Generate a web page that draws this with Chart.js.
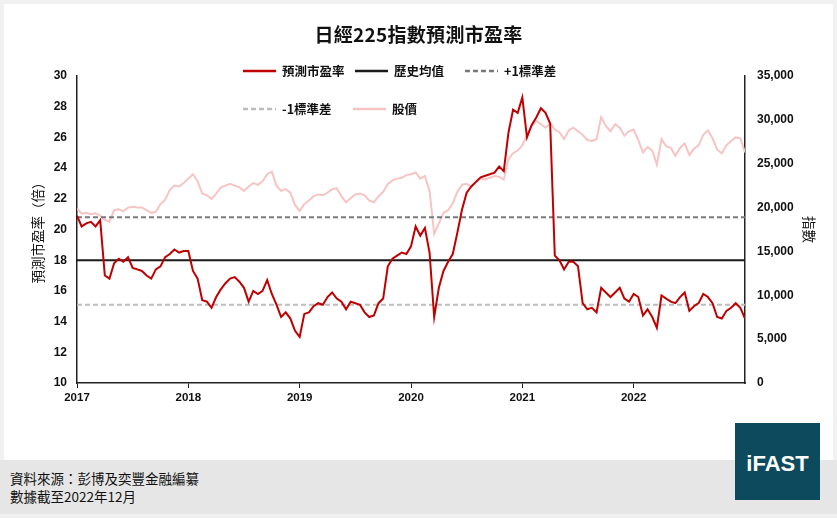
<!DOCTYPE html>
<html>
<head>
<meta charset="utf-8">
<script src="https://cdn.jsdelivr.net/npm/chart.js@4.4.0/dist/chart.umd.min.js"></script>
<style>
  html, body { margin: 0; padding: 0; }
  body { width: 837px; height: 518px; background: #f1f1f1; position: relative; overflow: hidden;
         font-family: "Liberation Sans Narrow", "Liberation Sans", "Noto Sans CJK TC", sans-serif; }
  #card { position: absolute; left: 4px; top: 4px; width: 829px; height: 456px; background: #fff; }
  #foot { position: absolute; left: 0; top: 460px; width: 837px; height: 54px; background: #e6e6e6; }
  #wrap { position: absolute; left: 0; top: 0; width: 837px; height: 420px; }
  #title { position: absolute; left: 0; width: 837px; top: 20px; text-align: center;
           font-size: 19px; font-weight: bold; color: #111; letter-spacing: 0.3px;
           font-family: "Liberation Sans Narrow", "Noto Sans CJK TC", sans-serif; }
  .leg { position: absolute; display: flex; align-items: center; font-size: 12.5px; font-weight: bold; color: #111;
         font-family: "Noto Sans CJK TC", sans-serif; white-space: nowrap; }
  .leg svg { margin-right: 6px; }
  .src { position: absolute; left: 10px; font-size: 13.5px; color: #111; font-family: "Noto Sans CJK TC", sans-serif; }
  #logo { position: absolute; left: 735px; top: 423px; width: 85px; height: 77px; background: #0d4a5e;
          color: #fff; font: bold 22px "Liberation Sans Narrow", "Liberation Sans", sans-serif;
          display: flex; align-items: center; justify-content: center; padding-top: 4px; box-sizing: border-box; }
</style>
</head>
<body>
<div id="card"></div>
<div id="foot"></div>
<div id="wrap"><canvas id="chart"></canvas></div>
<div id="title">日經225指數預測市盈率</div>
<div id="legend"></div>
<div class="src" style="top:468px">資料來源：彭博及奕豐金融編纂</div>
<div class="src" style="top:486px">數據截至2022年12月</div>
<div id="logo">iFAST</div>
<script>
// data: half-monthly readings, Jan 2017 - Dec 2022
const startYear = 2017;
const pointsPerYear = 24;

const peValues = [
  20.9, 20.2, 20.4, 20.5, 20.2, 20.6, 17.0, 16.8, 17.8, 18.1, 17.9, 18.2, 17.5, 17.4, 17.3, 17.0, 16.8, 17.4, 17.6, 18.2, 18.4, 18.7, 18.5, 18.6,
  18.6, 17.3, 16.8, 15.4, 15.3, 14.9, 15.6, 16.1, 16.5, 16.8, 16.9, 16.6, 16.2, 15.3, 16.0, 15.8, 16.0, 16.7, 15.8, 15.1, 14.3, 14.6, 14.2, 13.4,
  13.0, 14.5, 14.6, 15.0, 15.2, 15.1, 15.6, 15.9, 15.5, 15.3, 14.8, 15.3, 15.2, 15.1, 14.6, 14.3, 14.4, 15.2, 15.5, 17.6, 18.1, 18.3, 18.5, 18.4,
  18.9, 20.2, 19.6, 20.1, 18.5, 14.3, 16.2, 17.3, 17.9, 18.4, 19.8, 21.3, 22.4, 22.8, 23.1, 23.4, 23.5, 23.6, 23.7, 24.1, 23.8, 26.3, 27.8, 27.6,
  28.6, 26.0, 26.8, 27.3, 27.9, 27.6, 26.9, 18.3, 18.0, 17.4, 17.9, 17.9, 17.6, 15.2, 14.8, 14.9, 14.6, 16.2, 15.9, 15.6, 15.9, 16.2, 15.5, 15.3,
  15.8, 15.6, 14.4, 14.8, 14.3, 13.6, 15.7, 15.5, 15.3, 15.2, 15.6, 15.9, 14.7, 15.0, 15.2, 15.8, 15.6, 15.2, 14.3, 14.2, 14.7, 14.9, 15.2, 14.9,
  14.2
];

const priceValues = [
  19900, 19300, 19400, 19250, 19350, 19100, 18600, 18400, 19700, 19800, 19600, 20000, 20100, 20000, 20000, 19700, 19400, 19500, 20400, 20900, 22000, 22500, 22400, 22800,
  23300, 23800, 23000, 21600, 21400, 21000, 21600, 22300, 22500, 22700, 22500, 22300, 21900, 22400, 22800, 22600, 23000, 23800, 24100, 22500, 21900, 22100, 21700, 20300,
  19600, 20400, 20800, 21300, 21500, 21400, 21700, 22100, 22200, 21300, 20600, 21100, 21500, 21600, 21400, 20800, 20600, 21300, 21800, 22700, 23100, 23300, 23400, 23700,
  23800, 24000, 23300, 23600, 21900, 17000, 18200, 19400, 19700, 20500, 21800, 22600, 22700, 22400, 22900, 23300, 23200, 23400, 23600, 23500, 23200, 25500, 26200, 26500,
  27100, 28300, 29300, 29900, 29500, 29100, 29600, 28900, 28600, 27800, 28800, 29100, 28700, 28300, 27700, 27600, 27800, 30300, 29300, 28700, 29500, 29100, 28200, 28700,
  28900, 27700, 26300, 26900, 26500, 24900, 27800, 27000, 26800, 25900, 26800, 27300, 26000, 26700, 27100, 28300, 28800, 27900, 26600, 26200, 27100, 27600, 28000, 27900,
  26300
];

const meanPE = 18.0;
const plusOneSD = 20.8;
const minusOneSD = 15.1;

const seriesNames = ['預測市盈率', '歷史均值', '+1標準差', '-1標準差', '股價'];
const yearTicks = [2017, 2018, 2019, 2020, 2021, 2022];
const leftTicks = [10, 30, 2];
const rightTicks = [0, 35000, 5000];

const toPoints = (vals) => vals.map((v, i) => ({ x: startYear + i / pointsPerYear, y: v }));
const endYear = startYear + (peValues.length - 1) / pointsPerYear;
const flat = (v) => [{ x: startYear, y: v }, { x: endYear, y: v }];

const styles = [
  { color: '#c00000', dash: [] },
  { color: '#1a1a1a', dash: [] },
  { color: '#7a7a7a', dash: [5, 3] },
  { color: '#bdbdbd', dash: [5, 3] },
  { color: '#f7c4c4', dash: [] }
];

const datasets = [
  { data: toPoints(peValues), yAxisID: 'y' },
  { data: flat(meanPE), yAxisID: 'y' },
  { data: flat(plusOneSD), yAxisID: 'y' },
  { data: flat(minusOneSD), yAxisID: 'y' },
  { data: toPoints(priceValues), yAxisID: 'y2' }
].map((d, i) => ({
  ...d,
  label: seriesNames[i],
  borderColor: styles[i].color,
  borderDash: styles[i].dash,
  borderWidth: 2,
  pointRadius: 0,
  tension: 0,
  fill: false
}));

// html legend
const legendPos = [[243, 70], [355, 70], [465, 70], [243, 108], [353, 108]];
const legend = document.getElementById('legend');
seriesNames.forEach((name, i) => {
  const el = document.createElement('div');
  el.className = 'leg';
  el.style.left = legendPos[i][0] + 'px';
  el.style.top = (legendPos[i][1] - 9) + 'px';
  el.innerHTML = '<svg width="33" height="4"><line x1="0" y1="2" x2="33" y2="2" stroke="' + styles[i].color +
    '" stroke-width="2.5" stroke-dasharray="' + (styles[i].dash.join(',') || 'none') + '"/></svg>' + name;
  legend.appendChild(el);
});

const tickFont = { family: '"Liberation Sans Narrow", "Liberation Sans", sans-serif', size: 12, weight: 'bold' };
const titleFont = { family: '"Noto Sans CJK TC", sans-serif', size: 13.5 };

const ctx = document.getElementById('chart').getContext('2d');
const chart = new Chart(ctx, {
  type: 'line',
  data: { datasets },
  options: {
    responsive: true,
    maintainAspectRatio: false,
    animation: false,
    layout: { padding: { top: 76, left: 0, right: 0, bottom: 0 } },
    plugins: { legend: { display: false }, tooltip: { enabled: false } },
    scales: {
      x: {
        type: 'linear',
        min: startYear,
        max: startYear + 6,
        afterFit: (s) => { s.height = 37; },
        afterBuildTicks: (s) => { s.ticks = yearTicks.map(v => ({ value: v })); },
        ticks: { color: '#111', font: { ...tickFont, size: 11.5 }, padding: 3, callback: (v) => String(v) },
        grid: { drawOnChartArea: false, drawTicks: true, tickLength: 5, color: '#222' },
        border: { color: '#222', width: 1.5 }
      },
      y: {
        position: 'left',
        min: leftTicks[0],
        max: leftTicks[1],
        afterFit: (s) => { s.width = 77; },
        ticks: { stepSize: leftTicks[2], color: '#111', font: tickFont, padding: 10 },
        grid: { display: false, drawTicks: false },
        border: { color: '#222', width: 1.5 },
        title: { display: true, text: '預測市盈率（倍）', color: '#111', font: titleFont, padding: { top: 30 } }
      },
      y2: {
        position: 'right',
        min: rightTicks[0],
        max: rightTicks[1],
        afterFit: (s) => { s.width = 92; },
        ticks: { stepSize: rightTicks[2], color: '#111', font: tickFont, padding: 12,
                 callback: (v) => v.toLocaleString('en-US') },
        grid: { display: false, drawTicks: false },
        border: { color: '#222', width: 1.5 },
        title: { display: true, text: '指數', color: '#111', font: titleFont, padding: { top: 20 } }
      }
    }
  }
});
</script>
</body>
</html>
